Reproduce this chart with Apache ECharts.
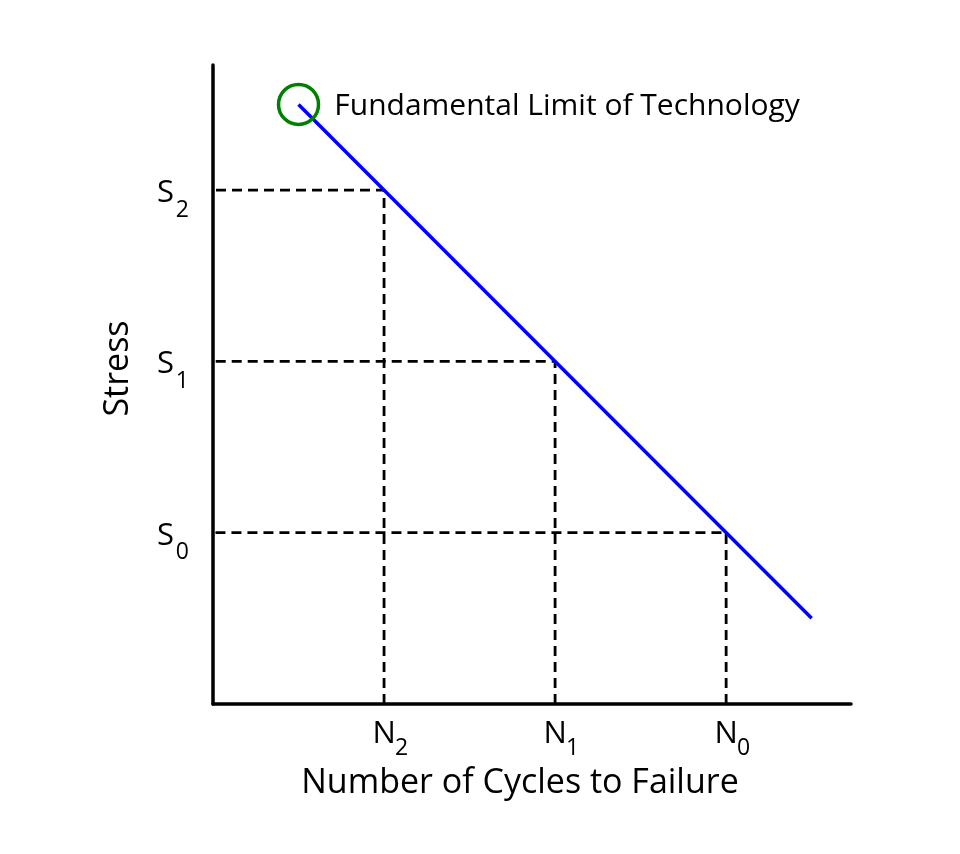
<!DOCTYPE html>
<html><head><meta charset="utf-8">
<script src="https://cdn.jsdelivr.net/npm/echarts@6/dist/echarts.min.js"></script>
<style>html,body{margin:0;padding:0;background:#fff}#c{width:960px;height:854px}</style>
</head><body><div id="c"></div>
<script>
// Data
const cycleTicks = [1, 2, 3];           // N2, N1, N0 positions
const cycleLabels = ['2', '1', '0'];    // subscripts for N
const stressTicks = [3, 2, 1];          // S2, S1, S0 positions
const stressLabels = ['2', '1', '0'];   // subscripts for S
const snCurve = [[0.5, 3.5], [3.5, 0.5]];
const limitPoint = [[0.5, 3.5]];
const limitText = 'Fundamental Limit of Technology';
const axisMax = 3.73;

const font = 'Open Sans';
const chart = echarts.init(document.getElementById('c'), null, {renderer: 'canvas'});

const dashSeries = cycleTicks.map((n, i) => ({
  type: 'line',
  data: [[n, 0], [n, stressTicks[i]], [0, stressTicks[i]]],
  symbol: 'none',
  lineStyle: {color: '#000', width: 2.8, type: [10, 6]},
  silent: true, z: 1
}));

function pick(ticks, labels, letter) {
  return function (v) {
    const i = ticks.findIndex(t => Math.abs(t - v) < 1e-6);
    return i < 0 ? '' : (letter != null ? letter : labels[i]);
  };
}
const base = {
  type: 'value', min: 0, max: axisMax, interval: 1,
  axisTick: {show: false}, splitLine: {show: false}
};
const mainStyle = {fontFamily: font, fontSize: 31, color: '#000'};
const subStyle = {fontFamily: font, fontSize: 23, color: '#000'};

chart.setOption({
  animation: false,
  grid: {left: 213, top: 65, right: 109, bottom: 150, containLabel: false},
  xAxis: [
    Object.assign({}, base, {
      position: 'bottom',
      axisLine: {show: true, lineStyle: {color: '#000', width: 3.5}},
      axisLabel: Object.assign({formatter: pick(cycleTicks, cycleLabels, 'N'), margin: 15, showMaxLabel: false}, mainStyle),
      name: 'Number of Cycles to Failure', nameLocation: 'middle', nameGap: 62,
      nameTextStyle: {fontFamily: font, fontSize: 34, color: '#000', padding: [0, 24, 0, 0]}
    }),
    Object.assign({}, base, {
      position: 'bottom',
      axisLine: {show: false},
      axisLabel: Object.assign({formatter: pick(cycleTicks, cycleLabels), margin: 33,
        padding: [0, 0, 0, 35], showMaxLabel: false}, subStyle)
    })
  ],
  yAxis: [
    Object.assign({}, base, {
      position: 'left',
      axisLine: {show: true, lineStyle: {color: '#000', width: 3.5}},
      axisLabel: Object.assign({formatter: pick(stressTicks, stressLabels, 'S'), margin: 39,
        verticalAlign: 'top', lineHeight: 6, showMaxLabel: false}, mainStyle),
      name: 'Stress', nameLocation: 'middle', nameGap: 78,
      nameTextStyle: {fontFamily: font, fontSize: 34, color: '#000', padding: [0, 0, 0, 32]}
    }),
    Object.assign({}, base, {
      position: 'left',
      axisLine: {show: false},
      axisLabel: Object.assign({formatter: pick(stressTicks, stressLabels), margin: 24,
        verticalAlign: 'top', lineHeight: 40, showMaxLabel: false}, subStyle)
    })
  ],
  series: dashSeries.concat([
    {
      type: 'line', data: snCurve, symbol: 'none',
      lineStyle: {color: '#0000ff', width: 3.5}, z: 3, silent: true
    },
    {
      type: 'scatter', data: limitPoint, symbol: 'circle', symbolSize: 40,
      itemStyle: {color: 'rgba(0,0,0,0)', borderColor: '#008000', borderWidth: 3.5, opacity: 1},
      label: {show: true, position: 'right', distance: 14, offset: [0, 2], formatter: limitText,
        fontFamily: font, fontSize: 30, color: '#000'},
      z: 4, silent: true
    }
  ])
});
</script></body></html>
